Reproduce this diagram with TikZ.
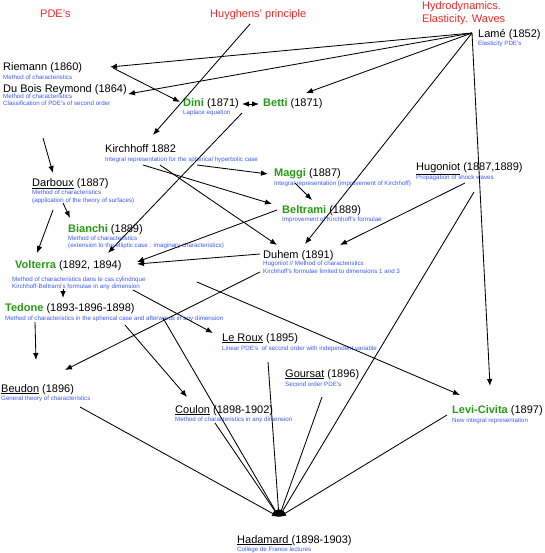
\documentclass[tikz,border=0pt]{standalone}
\usepackage{fontspec}
\setmainfont{Liberation Sans}
\usetikzlibrary{arrows.meta}
\definecolor{hdr}{RGB}{240,40,40}
\definecolor{nmc}{RGB}{40,155,20}
\definecolor{subc}{RGB}{60,90,255}
\newcommand{\grn}[1]{\textcolor{nmc}{\textbf{#1}}}
\tikzset{
 ttl/.style={anchor=base west, inner sep=0pt, font=\fontsize{11}{13}\selectfont},
 sbt/.style={anchor=base west, inner sep=0pt, text=subc, font=\fontsize{6.2}{7.5}\selectfont},
 hd/.style={anchor=base west, inner sep=0pt, text=hdr, font=\fontsize{11}{13}\selectfont},
 arr/.style={-{Latex[length=7pt,width=5.5pt]}, line width=0.85pt},
 darr/.style={{Latex[length=7pt,width=5.5pt]}-{Latex[length=7pt,width=5.5pt]}, line width=0.85pt},
}
\begin{document}
\begin{tikzpicture}[x=1pt,y=-1pt]
\useasboundingbox[fill=white] (0,0) rectangle (544,553);
% headers
\node[hd] (hpde) at (40,18) {PDE's};
\node[hd] (hhuy) at (210,18) {Huyghens' principle};
\node[hd] (hhyd1) at (422,10) {Hydrodynamics.};
\node[hd] (hhyd2) at (422,23) {Elasticity. Waves};
% nodes
\node[ttl] (lame) at (478,38) {Lamé (1852)};
\node[sbt] (lames) at (478,45.5) {Elasticity PDE's};
\node[ttl] (riem) at (3,71) {Riemann (1860)};
\node[sbt] (riems) at (3,80) {Method of characteristics};
\node[ttl] (dbr) at (3,93) {Du Bois Reymond (1864)};
\node[sbt] (dbrs1) at (3,99) {Method of characteristics};
\node[sbt] (dbrs2) at (3,106) {Classification of PDE's of second order};
\node[ttl] (dini) at (183,107) {\grn{Dini} (1871)};
\node[sbt] (dinis) at (183,115) {Laplace equation};
\node[ttl] (betti) at (263,107) {\grn{Betti} (1871)};
\node[ttl] (kirch) at (105,153) {Kirchhoff 1882};
\node[sbt] (kirchs) at (105,162) {Integral representation for the spherical hyperbolic case};
\node[ttl] (maggi) at (274,177) {\grn{Maggi} (1887)};
\node[sbt] (maggis) at (274,185.5) {Integral representation (improvement of Kirchhoff)};
\node[ttl] (hugo) at (416,171) {\underline{Hugoniot} (1887,1889)};
\node[sbt] (hugos) at (416,179.5) {Propagation of shock waves};
\node[ttl] (darb) at (32,187) {\underline{Darboux} (1887)};
\node[sbt] (darbs1) at (32,195) {Method of characteristics};
\node[sbt] (darbs2) at (32,202.5) {(application of the theory of surfaces)};
\node[ttl] (belt) at (282,213) {\grn{Beltrami} (1889)};
\node[sbt] (belts) at (282,221) {Improvement of Kirchhoff's formulae};
\node[ttl] (bian) at (68,232) {\grn{Bianchi} (1889)};
\node[sbt] (bians1) at (68,240) {Method of characteristics};
\node[sbt] (bians2) at (68,247.5) {(extension to the elliptic case : imaginary characteristics)};
\node[ttl] (duhem) at (263,258) {Duhem (1891)};
\node[sbt] (duhems1) at (263,265.5) {Hugoniot // Method of characteristics};
\node[sbt] (duhems2) at (263,273) {Kirchhoff's formulae limited to dimensions 1 and 3};
\node[ttl] (volt) at (15,268) {\grn{Volterra} (1892, 1894)};
\node[sbt] (volts1) at (12,281) {Method of characteristics dans le cas cylindrique};
\node[sbt] (volts2) at (12,288) {Kirchhoff-Beltrami's formulae in any dimension};
\node[ttl] (ted) at (5,311) {\grn{Tedone} (1893-1896-1898)};
\node[sbt] (teds) at (5,320) {Method of characteristics in the spherical case and afterwards in any dimension};
\node[ttl] (lerx) at (222,341) {\underline{Le Roux} (1895)};
\node[sbt] (lerxs) at (222,350) {Linear PDE's\ \ of second order with independent variable};
\node[ttl] (gour) at (285,377) {\underline{Goursat} (1896)};
\node[sbt] (gours) at (285,386) {Second order PDE's};
\node[ttl] (beud) at (1,392) {\underline{Beudon} (1896)};
\node[sbt] (beuds) at (1,400) {General theory of characteristics};
\node[ttl] (coul) at (175,413) {\underline{Coulon} (1898-1902)};
\node[sbt] (couls) at (175,421) {Method of characteristics in any dimension};
\node[ttl] (levi) at (452,413) {\grn{Levi-Civita} (1897)};
\node[sbt] (levis) at (452,422) {New integral representation};
\node[ttl] (hada) at (237,543) {\underline{Hadamard\ }(1898-1903)};
\node[sbt] (hadas) at (237,551) {Collège de France lectures};
% connector end points
\coordinate (lameP) at (472,33);
\coordinate (hadP) at (279,517);
\coordinate (riemIn) at (110,67);
\coordinate (riemOut) at (113,68);
\coordinate (dbrIn) at (128,94);
\coordinate (dbrOut) at (43,138);
\coordinate (diniIn) at (180,102);
\coordinate (diniR) at (242,104);
\coordinate (bettiL) at (259,104);
\coordinate (bettiIn) at (306,93);
\coordinate (diniOut) at (242,113);
\coordinate (huyOut) at (250,24);
\coordinate (kirchIn) at (153,135);
\coordinate (kirchO1) at (197,165);
\coordinate (kirchO2) at (143,165);
\coordinate (kirchO3) at (160,165);
\coordinate (maggiIn) at (268,174);
\coordinate (maggiOut) at (295,183);
\coordinate (beltIn) at (272,204);
\coordinate (beltIn2) at (312,200);
\coordinate (beltOut) at (277,210);
\coordinate (duhemIn1) at (277,245);
\coordinate (duhemIn2) at (305,244);
\coordinate (duhemIn3) at (340,245);
\coordinate (duhemO1) at (260,254);
\coordinate (duhemO2) at (260,272);
\coordinate (hugoO1) at (465,183);
\coordinate (hugoO2) at (474,192);
\coordinate (leviIn1) at (490,386);
\coordinate (leviIn2) at (460,395);
\coordinate (leviOut) at (447,415);
\coordinate (darbIn) at (53,173);
\coordinate (darbO1) at (63,203);
\coordinate (darbO2) at (53,210);
\coordinate (bianIn) at (70,218);
\coordinate (voltIn1) at (37,253);
\coordinate (voltIn2) at (108,253);
\coordinate (voltIn3) at (137,262);
\coordinate (voltIn4) at (137,264);
\coordinate (voltO1) at (63,289);
\coordinate (voltO2) at (133,290);
\coordinate (voltO3) at (197,282);
\coordinate (tedIn) at (63,298);
\coordinate (tedO1) at (35,322);
\coordinate (tedO2) at (125,325);
\coordinate (tedO3) at (163,318);
\coordinate (beudIn1) at (36,360);
\coordinate (beudIn2) at (65,370);
\coordinate (beudOut) at (80,407);
\coordinate (lerxIn) at (213,333);
\coordinate (lerxOut) at (268,362);
\coordinate (gourOut) at (322,397);
\coordinate (coulIn) at (187,397);
\coordinate (coulOut) at (215,423);
% connectors
\draw[arr] (lameP) -- (riemIn);
\draw[arr] (lameP) -- (dbrIn);
\draw[arr] (lameP) -- (bettiIn);
\draw[arr] (lameP) -- (duhemIn2);
\draw[arr] (lameP) -- (leviIn1);
\draw[arr] (riemOut) -- (diniIn);
\draw[darr] (diniR) -- (bettiL);
\draw[arr] (huyOut) -- (kirchIn);
\draw[arr] (diniOut) -- (voltIn2);
\draw[arr] (kirchO1) -- (maggiIn);
\draw[arr] (kirchO2) -- (beltIn);
\draw[arr] (kirchO3) -- (duhemIn1);
\draw[arr] (maggiOut) -- (beltIn2);
\draw[arr] (beltOut) -- (voltIn3);
\draw[arr] (duhemO1) -- (voltIn4);
\draw[arr] (hugoO1) -- (duhemIn3);
\draw[arr] (hugoO2) -- (hadP);
\draw[arr] (dbrOut) -- (darbIn);
\draw[arr] (darbO1) -- (bianIn);
\draw[arr] (darbO2) -- (voltIn1);
\draw[arr] (voltO1) -- (tedIn);
\draw[arr] (tedO1) -- (beudIn1);
\draw[arr] (voltO2) -- (lerxIn);
\draw[arr] (voltO3) -- (leviIn2);
\draw[arr] (duhemO2) -- (beudIn2);
\draw[arr] (tedO2) -- (coulIn);
\draw[arr] (tedO3) -- (hadP);
\draw[arr] (lerxOut) -- (hadP);
\draw[arr] (gourOut) -- (hadP);
\draw[arr] (coulOut) -- (hadP);
\draw[arr] (beudOut) -- (hadP);
\draw[arr] (leviOut) -- (hadP);
\end{tikzpicture}
\end{document}
